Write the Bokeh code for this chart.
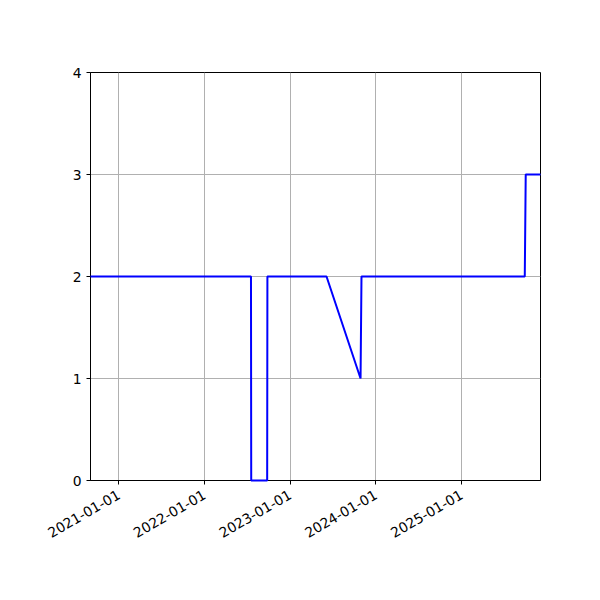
import math
import pandas as pd
from bokeh.plotting import figure
from bokeh.models import Range1d, FixedTicker, DatetimeTickFormatter, ColumnDataSource
from bokeh.embed import file_html
from bokeh.resources import INLINE

dates = ["2020-09-02", "2022-07-18", "2022-07-19", "2022-09-25", "2022-09-26",
         "2023-06-05", "2023-10-28", "2023-11-01", "2025-09-27", "2025-10-01",
         "2025-12-03"]
values = [2, 2, 0, 0, 2, 2, 1, 2, 2, 3, 3]
tick_dates = ["2021-01-01", "2022-01-01", "2023-01-01", "2024-01-01", "2025-01-01"]
y_ticks = [0, 1, 2, 3, 4]

dts = pd.to_datetime(dates)
src = ColumnDataSource(dict(x=dts, y=values))

def ms(s):
    return pd.Timestamp(s).value / 1e6

p = figure(width=584, height=584, x_axis_type="datetime",
           output_backend="svg", toolbar_location=None,
           x_range=Range1d(dts[0], dts[-1]), y_range=Range1d(0, 4),
           min_border_left=90, min_border_right=44, min_border_top=72, min_border_bottom=104)
p.line("x", "y", source=src, line_color="#0000ff", line_width=2, level="overlay")

p.xaxis.ticker = FixedTicker(ticks=[ms(t) for t in tick_dates])
fmt = "%Y-%m-%d"
p.xaxis.formatter = DatetimeTickFormatter(years=fmt, months=fmt, days=fmt, hours=fmt,
                                          hourmin=fmt, minutes=fmt, minsec=fmt,
                                          seconds=fmt, milliseconds=fmt, microseconds=fmt)
p.xaxis.major_label_orientation = math.pi / 6
p.xaxis.major_label_standoff = 9
p.yaxis.ticker = FixedTicker(ticks=y_ticks)

for ax in (p.xaxis[0], p.yaxis[0]):
    ax.axis_line_color = "black"
    ax.major_tick_line_color = "black"
    ax.major_tick_out = 4
    ax.major_tick_in = 0
    ax.minor_tick_line_color = None
    ax.major_label_text_font = "DejaVu Sans"
    ax.major_label_text_font_size = "13.9px"
    ax.major_label_text_color = "black"

p.xgrid.grid_line_color = "#b0b0b0"
p.ygrid.grid_line_color = "#b0b0b0"
p.xgrid.grid_line_width = 1
p.ygrid.grid_line_width = 1
p.outline_line_color = "black"
p.outline_line_width = 1
p.outline_line_alpha = 1

open("out.html", "w").write(file_html(p, INLINE))
